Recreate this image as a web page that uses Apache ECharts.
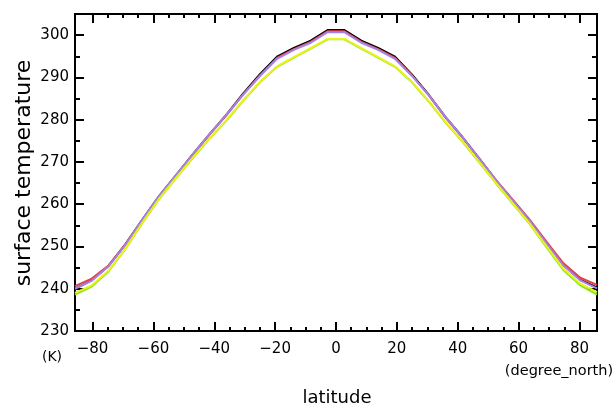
<!DOCTYPE html>
<html>
<head>
<meta charset="utf-8">
<script src="https://cdn.jsdelivr.net/npm/echarts@6/dist/echarts.min.js"></script>
<style>html,body{margin:0;padding:0;background:#fff}#c{width:615px;height:409px}</style>
</head>
<body>
<div id="c"></div>
<script>
// T21 Gaussian latitudes (degree_north)
const latitudes = [-85.76,-80.27,-74.74,-69.21,-63.68,-58.14,-52.61,-47.07,-41.53,-35.99,-30.46,-24.92,-19.38,-13.84,-8.31,-2.77,
                   2.77,8.31,13.84,19.38,24.92,30.46,35.99,41.53,47.07,52.61,58.14,63.68,69.21,74.74,80.27,85.76];
// surface temperature (K), one array per experiment
const tempBlack = [240.0,242.0,245.4,250.5,256.3,261.9,266.8,271.8,276.6,281.2,286.2,290.8,294.9,297.0,298.7,301.2,
                   301.2,298.7,297.0,294.9,290.7,285.9,280.6,275.9,270.8,265.6,260.8,256.0,250.8,245.6,242.1,240.3];
const tempRed =   [240.6,242.4,245.5,250.5,256.2,261.8,266.7,271.7,276.5,281.1,286.0,290.5,294.6,296.7,298.4,300.9,
                   300.9,298.4,296.7,294.6,290.5,285.8,280.5,275.8,270.8,265.7,261.0,256.3,251.1,246.0,242.6,240.9];
const tempPurple =[240.0,241.9,245.3,250.4,256.3,261.9,266.8,271.8,276.6,281.2,286.0,290.4,294.4,296.5,298.2,300.7,
                   300.7,298.2,296.5,294.4,290.4,285.8,280.6,275.9,270.8,265.6,260.8,256.0,250.7,245.5,242.0,240.1];
const tempGreen = [238.6,240.5,244.1,249.4,255.5,261.2,266.1,270.9,275.5,279.8,284.5,288.9,292.5,294.7,296.8,299.0,
                   299.0,296.8,294.7,292.5,288.9,284.3,279.3,274.8,269.9,264.9,260.1,255.3,249.8,244.4,240.8,238.6];
const tempYellow =[239.0,240.8,244.3,249.5,255.6,261.3,266.2,271.0,275.6,279.9,284.6,289.0,292.6,294.8,296.9,299.1,
                   299.1,296.9,294.8,292.6,289.0,284.4,279.4,274.9,270.0,265.0,260.2,255.4,250.0,244.7,241.2,239.2];
// tick values
const xMajorTicks = [-80,-60,-40,-20,0,20,40,60,80];
const xMinorTicks = [-75,-70,-65,-55,-50,-45,-35,-30,-25,-15,-10,-5,5,10,15,25,30,35,45,50,55,65,70,75];
const yMajorTicks = [230,240,250,260,270,280,290,300];
const yMinorTicks = [235,245,255,265,275,285,295];
const X_MIN = -85.76, X_MAX = 85.76, Y_MIN = 230, Y_MAX = 305;

const FONT = 'DejaVu Sans';
const chart = echarts.init(document.getElementById('c'), null, {renderer: 'canvas'});

function xAx(pos, ticks, len, labels) {
  return {
    type: 'value', position: pos, min: X_MIN, max: X_MAX,
    axisLine: {show: true, onZero: false, lineStyle: {color: '#000', width: 2}},
    axisTick: {show: true, inside: true, length: len, customValues: ticks, lineStyle: {color: '#000', width: 2}},
    axisLabel: labels ? {show: true, customValues: ticks, margin: 11, color: '#000', fontFamily: FONT, fontSize: 15,
      formatter: v => (v < 0 ? '\u2212' + Math.abs(v) : String(v))} : {show: false},
    splitLine: {show: false}
  };
}
function yAx(pos, ticks, len, labels) {
  return {
    type: 'value', position: pos, min: Y_MIN, max: Y_MAX,
    axisLine: {show: true, onZero: false, lineStyle: {color: '#000', width: 2}},
    axisTick: {show: true, inside: true, length: len, customValues: ticks, lineStyle: {color: '#000', width: 2}},
    axisLabel: labels ? {show: true, customValues: ticks, margin: 6, color: '#000', fontFamily: FONT, fontSize: 15} : {show: false},
    splitLine: {show: false}
  };
}

function line(data, color) {
  return {
    type: 'line', xAxisIndex: 0, yAxisIndex: 0, symbol: 'none', silent: true,
    data: latitudes.map((x, i) => [x, data[i]]),
    lineStyle: {color: color, width: 2}
  };
}

chart.setOption({
  animation: false,
  backgroundColor: '#fff',
  grid: {left: 75, right: 18, top: 14, bottom: 78},
  xAxis: [
    xAx('bottom', xMajorTicks, 9, true),
    xAx('bottom', xMinorTicks, 4, false),
    xAx('top', xMajorTicks, 9, false),
    xAx('top', xMinorTicks, 4, false)
  ],
  yAxis: [
    yAx('left', yMajorTicks, 9, true),
    yAx('left', yMinorTicks, 5, false),
    yAx('right', yMajorTicks, 9, false),
    yAx('right', yMinorTicks, 5, false)
  ],
  series: [
    line(tempBlack, '#000000'),
    line(tempRed, '#e8404a'),
    line(tempPurple, '#a184e6'),
    line(tempGreen, '#84e81a'),
    line(tempYellow, '#ecf01e')
  ],
  graphic: [
    {type: 'text', x: 24, y: 173, rotation: Math.PI / 2,
     style: {text: 'surface temperature', fontFamily: FONT, fontSize: 22, fill: '#000', textAlign: 'center', textVerticalAlign: 'middle'}},
    {type: 'text', x: 337, y: 398,
     style: {text: 'latitude', fontFamily: FONT, fontSize: 18, fill: '#000', textAlign: 'center', textVerticalAlign: 'middle'}},
    {type: 'text', x: 52, y: 357,
     style: {text: '(K)', fontFamily: FONT, fontSize: 14, fill: '#000', textAlign: 'center', textVerticalAlign: 'middle'}},
    {type: 'text', x: 559, y: 371,
     style: {text: '(degree_north)', fontFamily: FONT, fontSize: 14.5, fill: '#000', textAlign: 'center', textVerticalAlign: 'middle'}}
  ]
});
</script>
</body>
</html>
